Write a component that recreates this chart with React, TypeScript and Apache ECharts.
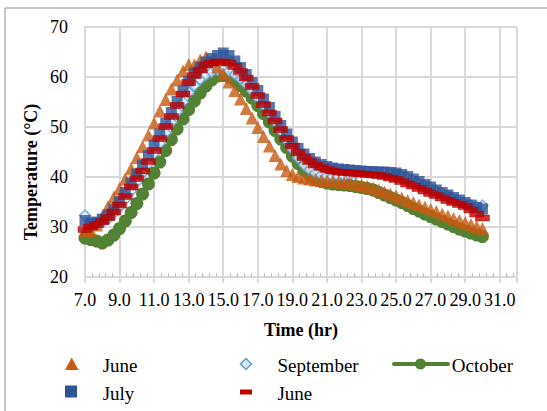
import React, { useEffect, useRef } from "react";
import * as echarts from "echarts";

const times = [
  7.0, 7.33, 7.67, 8.0, 8.33, 8.67, 9.0, 9.33, 9.67, 10.0, 10.33, 10.67, 11.0, 11.33, 11.67, 12.0, 12.33, 12.67,
  13.0, 13.33, 13.67, 14.0, 14.33, 14.67, 15.0, 15.33, 15.67, 16.0, 16.33, 16.67, 17.0, 17.33, 17.67, 18.0, 18.33,
  18.67, 19.0, 19.33, 19.67, 20.0, 20.33, 20.67, 21.0, 21.33, 21.67, 22.0, 22.33, 22.67, 23.0, 23.33, 23.67, 24.0,
  24.33, 24.67, 25.0, 25.33, 25.67, 26.0, 26.33, 26.67, 27.0, 27.33, 27.67, 28.0, 28.33, 28.67, 29.0, 29.33, 29.67, 30.0,
];

const juneTriangle = [
  29.2, 29.3, 30.4, 32.1, 34.1, 36.0, 37.7, 39.6, 41.7, 43.9, 46.1, 48.4, 50.8, 53.2, 55.5, 57.6, 59.4, 61.2,
  62.5, 62.4, 63.4, 64.0, 63.3, 62.0, 60.6, 59.0, 57.3, 55.6, 53.7, 51.8, 49.9, 48.1, 46.2, 44.3, 42.6,
  41.3, 40.5, 40.1, 39.8, 39.6, 39.4, 39.3, 39.2, 39.1, 39.0, 38.9, 38.8, 38.6, 38.4, 38.1, 37.8, 37.4,
  37.0, 36.6, 36.2, 35.8, 35.3, 34.9, 34.4, 34.0, 33.5, 33.1, 32.6, 32.2, 31.7, 31.3, 30.9, 30.5, 30.1, 29.7,
];

const july = [
  31.3, 30.8, 31.0, 31.6, 32.4, 33.6, 35.1, 36.9, 38.8, 40.6, 42.4, 44.3, 46.4, 48.6, 50.8, 52.9, 55.1, 57.2,
  59.2, 60.8, 62.0, 63.0, 63.7, 64.3, 64.8, 64.3, 63.2, 61.9, 60.5, 58.9, 57.3, 55.6, 53.9, 52.1, 50.3,
  48.6, 47.0, 45.7, 44.6, 43.7, 43.0, 42.5, 42.1, 41.8, 41.6, 41.5, 41.4, 41.3, 41.2, 41.1, 41.1, 41.0,
  41.0, 40.9, 40.8, 40.5, 40.1, 39.6, 39.1, 38.5, 38.0, 37.4, 36.9, 36.4, 35.9, 35.4, 34.9, 34.4, 33.9, 33.6,
];

const september = [
  32.3, 30.8, 30.6, 30.9, 31.6, 32.7, 34.0, 35.5, 37.2, 39.0, 40.8, 42.7, 44.7, 46.7, 48.8, 50.9, 53.0, 55.0,
  56.9, 58.3, 59.5, 60.4, 61.0, 61.4, 61.5, 61.2, 60.5, 59.6, 58.5, 57.2, 55.8, 54.3, 52.7, 51.0, 49.2,
  47.3, 45.5, 43.8, 42.4, 41.4, 40.8, 40.4, 40.2, 40.1, 40.1, 40.2, 40.4, 40.7, 41.0, 41.0, 40.9, 40.8,
  40.7, 40.6, 40.4, 40.1, 39.7, 39.2, 38.7, 38.2, 37.7, 37.2, 36.7, 36.2, 35.6, 35.1, 34.6, 34.3, 34.1, 34.3,
];

const october = [
  27.8, 27.5, 27.2, 26.8, 27.4, 28.4, 29.7, 31.2, 32.9, 34.7, 36.6, 38.6, 40.8, 43.0, 45.3, 47.5, 49.6, 51.6,
  53.5, 55.2, 56.8, 58.2, 59.4, 60.2, 60.3, 60.0, 59.3, 58.3, 57.2, 55.8, 54.3, 52.7, 51.0, 49.3, 47.6,
  45.9, 44.2, 42.7, 41.4, 40.3, 39.5, 39.1, 38.8, 38.6, 38.5, 38.4, 38.3, 38.1, 37.9, 37.7, 37.4, 36.9,
  36.4, 35.9, 35.4, 34.9, 34.3, 33.7, 33.2, 32.6, 32.1, 31.6, 31.1, 30.6, 30.1, 29.6, 29.2, 28.8, 28.4, 28.1,
];

const juneDash = [
  29.5, 30.0, 30.5, 31.1, 31.9, 33.0, 34.4, 36.1, 38.0, 39.7, 41.2, 43.1, 45.3, 47.7, 50.1, 52.1, 54.3, 56.6,
  58.9, 60.3, 61.4, 62.4, 62.8, 63.0, 63.0, 62.8, 62.1, 61.1, 59.8, 58.1, 56.3, 54.5, 52.8, 51.2, 49.5,
  47.7, 46.2, 44.9, 43.9, 43.1, 42.4, 41.9, 41.5, 41.2, 41.0, 40.9, 40.8, 40.7, 40.6, 40.5, 40.4, 40.3,
  40.1, 39.8, 39.5, 39.1, 38.6, 38.2, 37.7, 37.2, 36.7, 36.3, 35.8, 35.3, 34.9, 34.5, 34.1, 33.4, 32.6, 31.8,
];

const seriesNames = ["June", "July", "September", "October", "June"];
const xTitle = "Time (hr)";
const yTitle = "Temperature (°C)";

const C_ORANGE = "#C55A11";
const C_BLUE = "#2F5597";
const C_LBLUE = "#5B9BD5";
const C_GREEN = "#548235";
const C_RED = "#C00000";
const FONT = "'Liberation Serif', 'DejaVu Serif', serif";

const pairs = (ys: number[]) => times.map((t, i) => [t, ys[i]]);

export default function App() {
  const ref = useRef<HTMLDivElement>(null);
  useEffect(() => {
    if (!ref.current) return;
    const chart = echarts.init(ref.current, undefined, { renderer: "svg" });
    const legendText = (x: number, y: number, text: string) => ({
      type: "text",
      x,
      y,
      style: { text, font: `19px ${FONT}`, fill: "#000", textVerticalAlign: "middle", textAlign: "left" },
    });
    chart.setOption({
      animation: false,
      backgroundColor: "#fff",
      grid: { left: 85, right: 30, top: 27, bottom: 134 },
      xAxis: [
        {
          type: "value",
          min: 7,
          max: 32,
          interval: 2,
          axisLine: { show: true, lineStyle: { color: "#D9D9D9", width: 2 } },
          axisTick: { show: true, length: 6, lineStyle: { color: "#D9D9D9", width: 2 } },
          splitLine: { show: true, lineStyle: { color: "#D9D9D9", width: 2 } },
          axisLabel: {
            margin: 14,
            fontFamily: FONT,
            fontSize: 18,
            color: "#000",
            formatter: (v: number) => (v > 31.5 ? "" : v.toFixed(1)),
          },
        },
        {
          type: "value",
          min: 7,
          max: 32,
          interval: 2,
          position: "bottom",
          axisLine: { show: false },
          axisTick: { show: false, inside: true },
          axisLabel: { show: false },
          splitLine: { show: false },
          minorTick: { show: true, splitNumber: 5, length: 4, lineStyle: { color: "#BFBFBF", width: 1 } },
        },
      ],
      yAxis: {
        type: "value",
        min: 20,
        max: 70,
        interval: 10,
        axisLine: { show: true, lineStyle: { color: "#D9D9D9", width: 2 } },
        axisTick: { show: false },
        splitLine: { show: true, lineStyle: { color: "#D9D9D9", width: 2 } },
        axisLabel: { margin: 17, fontFamily: FONT, fontSize: 18, color: "#000" },
      },
      series: [
        {
          name: seriesNames[3],
          type: "line",
          data: pairs(october),
          symbol: "circle",
          symbolSize: 13,
          lineStyle: { color: C_GREEN, width: 4 },
          itemStyle: { color: C_GREEN },
          z: 2,
        },
        {
          name: seriesNames[2],
          type: "scatter",
          data: pairs(september),
          symbol: "diamond",
          symbolSize: 11,
          itemStyle: { color: "#DDEBF7", borderColor: C_LBLUE, borderWidth: 1.5 },
          z: 3,
        },
        {
          name: seriesNames[0],
          type: "scatter",
          data: pairs(juneTriangle),
          symbol: "triangle",
          symbolSize: 13,
          itemStyle: { color: C_ORANGE },
          z: 4,
        },
        {
          name: seriesNames[1],
          type: "scatter",
          data: pairs(july),
          symbol: "rect",
          symbolSize: 11,
          itemStyle: { color: C_BLUE },
          z: 5,
        },
        {
          name: seriesNames[4] + " ",
          type: "scatter",
          data: pairs(juneDash),
          symbol: "rect",
          symbolSize: [14, 6],
          itemStyle: { color: C_RED, borderColor: "#A50000", borderWidth: 0.5 },
          z: 6,
        },
      ],
      graphic: [
        {
          type: "rect",
          shape: { x: 5, y: 8, width: 600, height: 450 },
          style: { fill: "none", stroke: "#8C8C8C", lineWidth: 1 },
          silent: true,
          z: -10,
        },
        {
          type: "text",
          x: 31,
          y: 172,
          rotation: Math.PI / 2,
          style: {
            text: yTitle,
            font: `bold 18px ${FONT}`,
            fill: "#000",
            textAlign: "center",
            textVerticalAlign: "middle",
          },
        },
        {
          type: "text",
          x: 301,
          y: 330,
          style: {
            text: xTitle,
            font: `bold 18px ${FONT}`,
            fill: "#000",
            textAlign: "center",
            textVerticalAlign: "middle",
          },
        },
        {
          type: "polygon",
          shape: { points: [[71.7, 357.5], [78.5, 370], [65, 370]] },
          style: { fill: C_ORANGE },
        },
        legendText(102.7, 365, seriesNames[0]),
        {
          type: "rect",
          shape: { x: 65, y: 385.5, width: 12, height: 12 },
          style: { fill: C_BLUE },
        },
        legendText(102.7, 393, seriesNames[1]),
        {
          type: "polygon",
          shape: { points: [[246, 358.5], [251.5, 364], [246, 369.5], [240.5, 364]] },
          style: { fill: "#DDEBF7", stroke: C_LBLUE, lineWidth: 1.5 },
        },
        legendText(277.4, 365, seriesNames[2]),
        {
          type: "rect",
          shape: { x: 240, y: 389.5, width: 12, height: 5 },
          style: { fill: C_RED },
        },
        legendText(277.4, 393, seriesNames[4]),
        {
          type: "line",
          shape: { x1: 394, y1: 364, x2: 448, y2: 364 },
          style: { stroke: C_GREEN, lineWidth: 4, lineCap: "round" },
        },
        {
          type: "circle",
          shape: { cx: 420.5, cy: 364, r: 5.5 },
          style: { fill: C_GREEN },
        },
        legendText(451.8, 365, seriesNames[3]),
      ],
    });
    return () => chart.dispose();
  }, []);
  return <div ref={ref} style={{ width: 547, height: 411, position: "absolute", left: 0, top: 0 }} />;
}
